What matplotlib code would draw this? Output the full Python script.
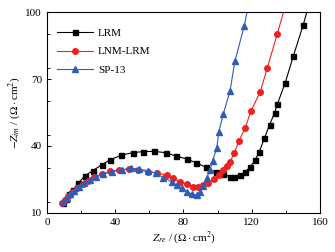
import matplotlib
matplotlib.use("Agg")
import matplotlib.pyplot as plt
from matplotlib.ticker import MultipleLocator

plt.rcParams['font.family'] = ['Liberation Serif', 'DejaVu Serif']
plt.rcParams['mathtext.fontset'] = 'stix'

# LRM (black squares)
lrm_x = [9.2, 11.0, 13.0, 15.5, 18.3, 22.3, 26.8, 32.0, 36.9, 43.2, 50.2, 56.5, 62.9,
         69.6, 75.6, 81.9, 87.3, 93.2, 99.1, 103.3, 107.3, 109.8, 113.1, 116.1, 119.0,
         121.9, 124.5, 127.5, 130.5, 133.5, 135.0, 139.7, 144.4, 150.2, 154.5]
lrm_y = [14.6, 16.3, 18.3, 20.5, 23.3, 26.6, 28.9, 31.5, 33.7, 35.8, 37.0, 37.5, 37.6,
         37.0, 35.5, 34.2, 32.5, 30.5, 28.2, 27.3, 26.3, 26.0, 27.0, 28.3, 30.5,
         33.5, 37.5, 43.5, 49.5, 55.0, 58.7, 68.4, 80.3, 94.2, 106.0]

# LNM-LRM (red circles)
lnm_x = [8.7, 10.6, 12.6, 15.0, 17.8, 21.0, 24.3, 27.8, 32.0, 37.0, 42.5, 48.0, 53.5,
         59.0, 64.5, 70.2, 74.0, 78.0, 81.9, 85.8, 88.5, 91.6, 94.5, 98.1, 100.8,
         103.3, 105.5, 107.3, 109.8, 112.5, 116.1, 119.6, 124.9, 129.1, 135.0, 140.5]
lnm_y = [14.4, 16.0, 17.7, 19.4, 21.1, 22.9, 24.5, 25.9, 27.4, 28.6, 29.3, 29.6, 29.3,
         28.5, 27.8, 27.0, 25.5, 24.0, 23.0, 21.8, 21.6, 22.5, 23.3, 25.1, 27.0,
         29.3, 31.0, 33.0, 36.7, 42.2, 47.9, 55.7, 64.0, 74.8, 90.2, 105.0]

# SP-13 (blue triangles)
sp_x = [9.6, 11.5, 13.5, 16.0, 18.8, 21.9, 25.2, 28.7, 33.0, 37.9, 43.8, 49.0, 54.1,
        59.4, 63.9, 68.2, 73.1, 76.0, 79.0, 81.9, 84.8, 87.7, 89.7, 91.6, 93.6,
        95.5, 97.1, 99.5, 100.8, 103.3, 107.3, 110.2, 115.7, 118.5]
sp_y = [15.1, 16.6, 18.4, 20.0, 21.5, 23.3, 24.8, 26.0, 27.5, 28.5, 29.3, 30.0, 29.7,
        28.8, 27.8, 25.8, 24.0, 22.5, 21.1, 19.6, 18.4, 18.1, 19.6, 22.1, 25.5,
        29.3, 33.3, 39.0, 46.4, 54.2, 64.6, 78.1, 93.9, 105.0]

fig = plt.figure(figsize=(3.35, 2.52), dpi=100)
ax = fig.add_axes([0.140, 0.155, 0.815, 0.797])

ax.plot(lrm_x, lrm_y, color='black', marker='s', ms=3.6, lw=0.8, label='LRM')
ax.plot(lnm_x, lnm_y, color='#f02020', marker='o', ms=4.0, lw=0.8, label='LNM-LRM')
ax.plot(sp_x, sp_y, color='#2e5cb8', marker='^', ms=4.2, lw=0.8, label='SP-13')

ax.set_xlim(0, 160)
ax.set_ylim(10, 100)
ax.set_xticks([0, 40, 80, 120, 160])
ax.set_yticks([10, 40, 70, 100])
ax.xaxis.set_minor_locator(MultipleLocator(20))
ax.yaxis.set_minor_locator(MultipleLocator(15))
ax.tick_params(which='both', direction='in', labelsize=8, top=False, right=False)
ax.tick_params(which='major', length=3, width=0.7)
ax.tick_params(which='minor', length=2, width=0.6)
for s in ax.spines.values():
    s.set_linewidth(0.8)

ax.set_xlabel(r'$Z_{re}$ / ($\mathrm{\Omega}\cdot$cm$^2$)', fontsize=8, labelpad=2)
ax.set_ylabel(r'$-Z_{im}$ / ($\mathrm{\Omega}\cdot$cm$^2$)', fontsize=8, labelpad=2)

ax.legend(loc='upper left', bbox_to_anchor=(0.02, 0.94), frameon=False, fontsize=8,
          handlelength=3.3, borderaxespad=0.0, labelspacing=0.75, handletextpad=0.4)

fig.savefig('out.png', dpi=100)
